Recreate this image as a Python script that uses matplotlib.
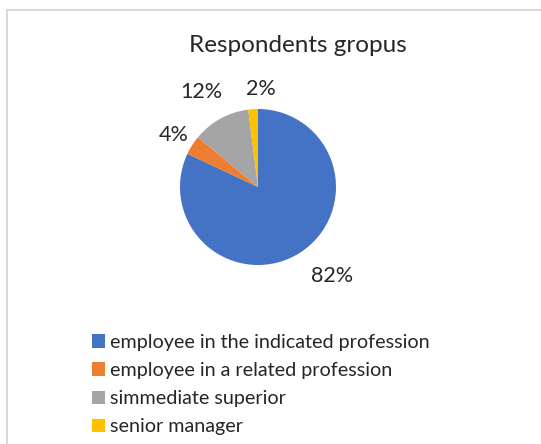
import matplotlib
matplotlib.use("Agg")
import matplotlib.pyplot as plt
from matplotlib.patches import Rectangle
import numpy as np

categories = ["employee in the indicated profession",
              "employee in a related profession",
              "simmediate superior",
              "senior manager"]
values = [82, 4, 12, 2]
pct_labels = ["82%", "4%", "12%", "2%"]
colors = ["#4472C4", "#ED7D31", "#A5A5A5", "#FFC000"]
title = "Respondents gropus"

plt.rcParams['font.family'] = ['Lato', 'DejaVu Sans']

W, H = 541, 444
fig = plt.figure(figsize=(W/100, H/100), dpi=100)
fig.patch.set_facecolor("white")
# chart-area border (image is cropped on the right and bottom)
fig.add_artist(Rectangle((7/W, -0.1), 1.2, 1 - 10/H + 0.1, transform=fig.transFigure,
                         fill=False, edgecolor="#D9D9D9", linewidth=1.5))

cx, cy, R = 258, 187, 78
ax = fig.add_axes([(cx - R)/W, (H - cy - R)/H, 2*R/W, 2*R/H])
wedges, texts = ax.pie(values, colors=colors, startangle=90, counterclock=False,
                       labels=pct_labels, labeldistance=1.3,
                       wedgeprops=dict(linewidth=0),
                       textprops=dict(fontsize=15.5, color="#262626",
                                      ha="center", va="center"))
ax.set_xlim(-1, 1)
ax.set_ylim(-1, 1)
ax.set_aspect("equal")
# best-fit label placement (distance, angle offset in degrees)
label_fit = [(1.48, 7.3), (1.27, 0.4), (1.42, 1.9), (1.26, -5.0)]
for w, t, (d, off) in zip(wedges, texts, label_fit):
    a = np.radians((w.theta1 + w.theta2) / 2 + off)
    t.set_position((d*np.cos(a), d*np.sin(a)))
    t.set_ha("center"); t.set_va("center")

fig.text(297.5/W, 1 - 52/H, title, ha="center", va="baseline", fontsize=17.5, color="#262626")

leg = fig.legend(wedges, categories, loc="upper left", bbox_to_anchor=(92/W, 1 - 334/H),
                 frameon=False, fontsize=14.2, handlelength=0.66, handleheight=0.66,
                 handletextpad=0.25, labelspacing=0.56, borderaxespad=0, borderpad=0)
for t in leg.get_texts():
    t.set_color("#262626")

fig.savefig("out.png", dpi=100)
